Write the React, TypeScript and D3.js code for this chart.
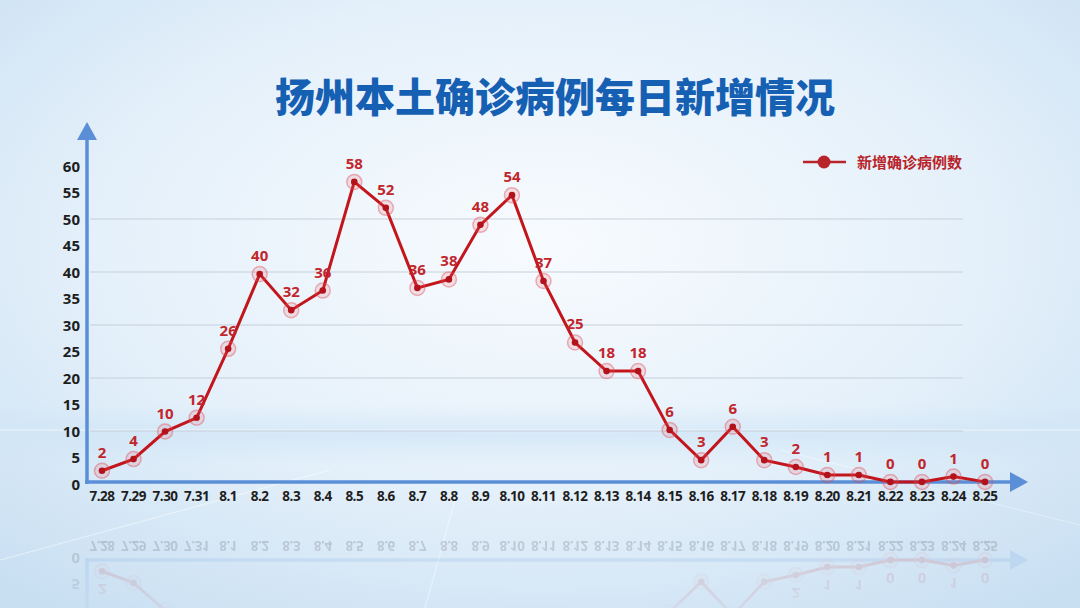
import * as d3 from "d3";
import { useEffect, useRef } from "react";

const dates = [
  "7.28", "7.29", "7.30", "7.31", "8.1", "8.2", "8.3", "8.4", "8.5", "8.6",
  "8.7", "8.8", "8.9", "8.10", "8.11", "8.12", "8.13", "8.14", "8.15", "8.16",
  "8.17", "8.18", "8.19", "8.20", "8.21", "8.22", "8.23", "8.24", "8.25",
];
// numbers printed above each point
const values = [
  2, 4, 10, 12, 26, 40, 32, 36, 58, 52, 36, 38, 48, 54, 37, 25, 18, 18, 6, 3,
  6, 3, 2, 1, 1, 0, 0, 1, 0,
];
// heights the points are actually drawn at in the source (not exactly the labels)
const plotted = [
  2.5, 4.7, 9.9, 12.5, 25.5, 39.6, 32.8, 36.5, 57, 52.1, 37, 38.6, 48.9, 54.5,
  38.3, 26.7, 21.3, 21.3, 10.2, 4.5, 10.8, 4.5, 3.2, 1.7, 1.7, 0.4, 0.4, 1.4, 0.4,
];
const yTicks = [0, 5, 10, 15, 20, 25, 30, 35, 40, 45, 50, 55, 60];
const gridTicks = [10, 20, 30, 40, 50];
const title = "扬州本土确诊病例每日新增情况";
const seriesName = "新增确诊病例数";

const W = 1080,
  H = 608;
const axisColor = "#5a8fd8";
const red = "#c3161c";
const numFont = "'Open Sans', 'Noto Sans', sans-serif";
const cjkFont = "'Noto Sans CJK SC', sans-serif";
const mirrorY = 521;

export default function App() {
  const ref = useRef<SVGSVGElement>(null);

  useEffect(() => {
    const svg = d3.select(ref.current);
    svg.selectAll("*").remove();

    const defs = svg.append("defs");

    // background
    const bg = defs
      .append("radialGradient")
      .attr("id", "bg")
      .attr("cx", "50%")
      .attr("cy", "40%")
      .attr("r", "75%");
    bg.append("stop").attr("offset", "0%").attr("stop-color", "#f8fbfe");
    bg.append("stop").attr("offset", "55%").attr("stop-color", "#e4f0fa");
    bg.append("stop").attr("offset", "100%").attr("stop-color", "#c8dff2");
    svg.append("rect").attr("width", W).attr("height", H).attr("fill", "url(#bg)");

    // soft horizon band
    const band = defs
      .append("linearGradient")
      .attr("id", "band")
      .attr("x1", 0)
      .attr("x2", 0)
      .attr("y1", 0)
      .attr("y2", 1);
    band.append("stop").attr("offset", "0%").attr("stop-color", "#cfe5f6").attr("stop-opacity", 0);
    band.append("stop").attr("offset", "50%").attr("stop-color", "#cfe5f6").attr("stop-opacity", 0.7);
    band.append("stop").attr("offset", "100%").attr("stop-color", "#cfe5f6").attr("stop-opacity", 0);
    svg.append("rect").attr("x", 0).attr("y", 405).attr("width", W).attr("height", 60).attr("fill", "url(#band)");
    svg.append("rect").attr("x", 0).attr("y", 429).attr("width", W).attr("height", 2).attr("fill", "#ffffff").attr("opacity", 0.3);

    // faint light streaks
    svg.append("line").attr("x1", 0).attr("y1", 560).attr("x2", 330).attr("y2", 470)
      .attr("stroke", "#ffffff").attr("stroke-width", 1.2).attr("opacity", 0.45);
    svg.append("line").attr("x1", 455).attr("y1", 500).attr("x2", 425).attr("y2", 608)
      .attr("stroke", "#ffffff").attr("stroke-width", 1.2).attr("opacity", 0.4);
    svg.append("line").attr("x1", 780).attr("y1", 450).attr("x2", 1080).attr("y2", 525)
      .attr("stroke", "#ffffff").attr("stroke-width", 1).attr("opacity", 0.35);

    // title
    svg
      .append("text")
      .attr("x", 555)
      .attr("y", 112)
      .attr("text-anchor", "middle")
      .attr("font-family", cjkFont)
      .attr("font-weight", 900)
      .attr("font-size", 40)
      .attr("fill", "#1660b4")
      .text(title);

    const x = d3.scalePoint<string>().domain(dates).range([102, 985]);
    const y = d3.scaleLinear().domain([0, 60]).range([484, 166]);

    const chart = svg.append("g").attr("class", "chart");

    // grid lines
    chart
      .selectAll("line.grid")
      .data(gridTicks)
      .enter()
      .append("line")
      .attr("class", "grid")
      .attr("x1", 90)
      .attr("x2", 963)
      .attr("y1", (d) => y(d))
      .attr("y2", (d) => y(d))
      .attr("stroke", "#c5d0dc")
      .attr("stroke-width", 1.2);

    // axes with arrows
    chart.append("line").attr("x1", 87).attr("x2", 87).attr("y1", 484).attr("y2", 138)
      .attr("stroke", axisColor).attr("stroke-width", 3.5);
    chart.append("path").attr("d", "M77,140 L97,140 L87,122 Z").attr("fill", axisColor);
    chart.append("line").attr("x1", 85).attr("x2", 1012).attr("y1", 482).attr("y2", 482)
      .attr("stroke", axisColor).attr("stroke-width", 3.5);
    chart.append("path").attr("d", "M1010,472 L1010,492 L1028,482 Z").attr("fill", axisColor);

    // y tick labels
    chart
      .selectAll("text.ytick")
      .data(yTicks)
      .enter()
      .append("text")
      .attr("class", "ytick")
      .attr("x", 80)
      .attr("y", (d) => y(d) + 5.5)
      .attr("text-anchor", "end")
      .attr("font-family", numFont)
      .attr("font-weight", 700)
      .attr("font-size", 15)
      .attr("fill", "#1e1e1e")
      .text((d) => d);

    // x tick labels
    chart
      .selectAll("text.xtick")
      .data(dates)
      .enter()
      .append("text")
      .attr("class", "xtick")
      .attr("x", (d) => x(d) ?? 0)
      .attr("y", 501)
      .attr("text-anchor", "middle")
      .attr("font-family", numFont)
      .attr("font-weight", 700)
      .attr("font-size", 13.5)
      .attr("letter-spacing", -0.5)
      .attr("fill", "#1e1e1e")
      .text((d) => d);

    const pts = dates.map((d, i) => ({ date: d, v: values[i], p: plotted[i] }));

    const line = d3
      .line<(typeof pts)[number]>()
      .x((d) => x(d.date) ?? 0)
      .y((d) => y(d.p));

    chart
      .append("path")
      .datum(pts)
      .attr("d", line)
      .attr("fill", "none")
      .attr("stroke", red)
      .attr("stroke-width", 3)
      .attr("stroke-linejoin", "miter");

    const marks = chart.selectAll("g.pt").data(pts).enter().append("g").attr("class", "pt");
    marks
      .append("circle")
      .attr("cx", (d) => x(d.date) ?? 0)
      .attr("cy", (d) => y(d.p))
      .attr("r", 7.5)
      .attr("fill", "rgba(235,90,100,0.16)")
      .attr("stroke", "rgba(220,70,80,0.4)")
      .attr("stroke-width", 1.5);
    marks
      .append("circle")
      .attr("cx", (d) => x(d.date) ?? 0)
      .attr("cy", (d) => y(d.p))
      .attr("r", 3.3)
      .attr("fill", "#b3121a");
    marks
      .append("text")
      .attr("class", "vlabel")
      .attr("x", (d) => x(d.date) ?? 0)
      .attr("y", (d) => y(d.p) - 13)
      .attr("text-anchor", "middle")
      .attr("font-family", numFont)
      .attr("font-weight", 700)
      .attr("font-size", 15)
      .attr("fill", "#c1262c")
      .text((d) => d.v);

    // legend
    const lg = svg.append("g");
    lg.append("line").attr("x1", 803).attr("x2", 846).attr("y1", 162).attr("y2", 162)
      .attr("stroke", "#b8242a").attr("stroke-width", 2.5);
    lg.append("circle").attr("cx", 824).attr("cy", 162).attr("r", 6.5).attr("fill", "#b8242a");
    lg.append("text")
      .attr("x", 857)
      .attr("y", 168)
      .attr("font-family", cjkFont)
      .attr("font-weight", 700)
      .attr("font-size", 15)
      .attr("fill", "#b8242a")
      .text(seriesName);

    // mirrored reflection under the axis
    const fade = defs
      .append("linearGradient")
      .attr("id", "fade")
      .attr("gradientUnits", "userSpaceOnUse")
      .attr("x1", 0)
      .attr("x2", 0)
      .attr("y1", mirrorY)
      .attr("y2", H);
    fade.append("stop").attr("offset", "0%").attr("stop-color", "#fff").attr("stop-opacity", 1);
    fade.append("stop").attr("offset", "100%").attr("stop-color", "#fff").attr("stop-opacity", 0.3);
    defs
      .append("mask")
      .attr("id", "reflMask")
      .attr("maskUnits", "userSpaceOnUse")
      .append("rect")
      .attr("x", 0)
      .attr("y", mirrorY)
      .attr("width", W)
      .attr("height", H - mirrorY)
      .attr("fill", "url(#fade)");

    const refl = svg.append("g").attr("mask", "url(#reflMask)").attr("opacity", 0.2);
    const clone = chart.node()!.cloneNode(true) as SVGGElement;
    clone.setAttribute("transform", `translate(0,${mirrorY * 2}) scale(1,-1)`);
    refl.node()!.appendChild(clone);
    // drop reflected texts that would run off the bottom of the page
    d3.select(clone)
      .selectAll<SVGTextElement, unknown>("text")
      .filter(function () {
        const ty = +(this.getAttribute("y") ?? 0);
        return mirrorY * 2 - ty > H - 14;
      })
      .remove();
  }, []);

  return (
    <svg
      ref={ref}
      width={W}
      height={H}
      style={{ position: "absolute", left: 0, top: 0, display: "block" }}
    />
  );
}
